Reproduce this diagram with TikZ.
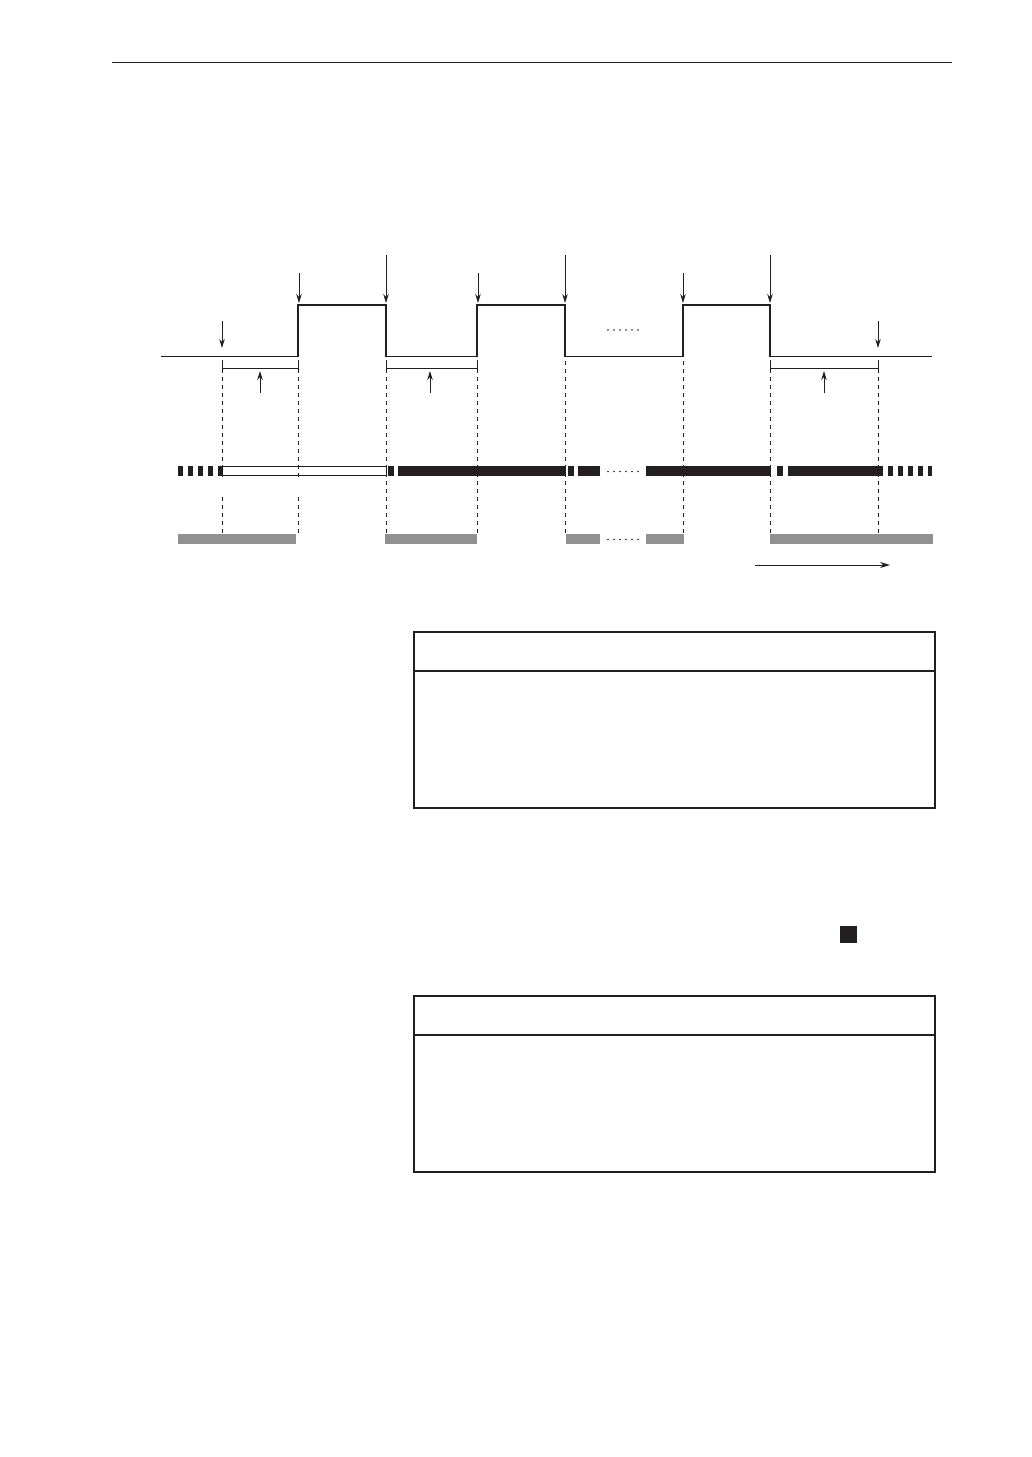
\documentclass[tikz,border=0pt]{standalone}
\usetikzlibrary{arrows.meta,calc}
\definecolor{ink}{HTML}{231F20}
\definecolor{bargray}{HTML}{919191}
\tikzset{
  signal/.style={line width=1.8pt, draw=ink},
  pointer/.style={line width=0.9pt, draw=ink, -{Stealth[length=9pt,width=5.5pt]}},
  guide/.style={line width=0.8pt, draw=ink, dash pattern=on 4pt off 4pt},
  bracket/.style={line width=0.9pt, draw=ink},
  blk/.style={fill=ink, draw=none},
  gry/.style={fill=bargray, draw=none},
  frame/.style={line width=1.7pt, draw=ink},
  dotmark/.style={fill=ink, draw=none}
}
\begin{document}
\begin{tikzpicture}[x=1pt,y=-1pt]
\useasboundingbox (0,0) rectangle (1032,1457);
% header rule
\draw[line width=1pt, draw=ink] (112,62) -- (952,62);

% key x positions
\coordinate (a) at (222,0);
\coordinate (r1) at (298,0);
\coordinate (f1) at (386,0);
\coordinate (r2) at (477,0);
\coordinate (f2) at (565,0);
\coordinate (r3) at (683,0);
\coordinate (f3) at (770,0);
\coordinate (b) at (878,0);

% signal
\draw[signal] (161,356.5) -- (298,356.5) -- (298,305) -- (386,305) -- (386,356.5)
  -- (477,356.5) -- (477,305) -- (565,305) -- (565,356.5)
  -- (683,356.5) -- (683,305) -- (770,305) -- (770,356.5) -- (932,356.5);

% dots between pulses
\foreach \i in {0,...,5} \fill[dotmark] (608+6*\i,330) circle (0.8);

% down pointers
\draw[pointer] (222,321) -- (222,348);
\draw[pointer] (299,273) -- (299,303);
\draw[pointer] (386,255) -- (386,303);
\draw[pointer] (478,273) -- (478,303);
\draw[pointer] (565,255) -- (565,303);
\draw[pointer] (683,273) -- (683,303);
\draw[pointer] (770,255) -- (770,303);
\draw[pointer] (878,321) -- (878,348);

% brackets
\draw[bracket] (222,360) -- (222,368) -- (298,368) -- (298,360);
\draw[bracket] (386,360) -- (386,368) -- (477,368) -- (477,360);
\draw[bracket] (770,360) -- (770,368) -- (878,368) -- (878,360);
\draw[pointer] (260,393) -- (260,371);
\draw[pointer] (430,393) -- (430,371);
\draw[pointer] (824,393) -- (824,371);

% black/white bar row
\foreach \s in {178,188,198,208} \fill[blk] (\s,466) rectangle ++(5,10);
\fill[blk] (218,466) rectangle (222,476);
\draw[line width=1pt, draw=ink, fill=white] (222,466.5) rectangle (386,475.5);
\fill[blk] (388,466) rectangle (394,476);
\fill[blk] (398,466) rectangle (566,476);
\fill[blk] (568,466) rectangle (574,476);
\fill[blk] (578,466) rectangle (600,476);
\foreach \i in {0,...,5} \fill[dotmark] (608+6*\i,471.5) circle (0.8);
\fill[blk] (646,466) rectangle (771,476);
\fill[blk] (777,466) rectangle (783,476);
\fill[blk] (788,466) rectangle (883,476);
\foreach \s in {888,898,908,918} \fill[blk] (\s,466) rectangle ++(5,10);
\fill[blk] (928,466) rectangle (932,476);

% dashed guides
\foreach \p in {a,r1}{
  \draw[guide] ($(\p)+(0,361)$) -- ($(\p)+(0,477)$);
  \draw[guide] ($(\p)+(0,497)$) -- ($(\p)+(0,533)$);
}
\foreach \p in {f1,r2,f2,r3,f3,b}
  \draw[guide] ($(\p)+(0,361)$) -- ($(\p)+(0,533)$);

% gray bar row
\fill[gry] (178,534) rectangle (296,544);
\fill[gry] (385,534) rectangle (477,544);
\fill[gry] (566,534) rectangle (600,544);
\foreach \i in {0,...,5} \fill[dotmark] (608+6*\i,539.5) circle (0.8);
\fill[gry] (646,534) rectangle (684,544);
\fill[gry] (770,534) rectangle (933,544);

% time arrow
\coordinate (t0) at (755,565);
\coordinate (t1) at (890,565);
\draw[line width=0.9pt, draw=ink, -{Stealth[length=10pt,width=6pt]}] (t0) -- (t1);

% table frame 1
\node[frame, minimum width=521pt, minimum height=176pt, anchor=north west, inner sep=0pt] (box1) at (413,631) {};
\draw[frame] (413,671) -- (934,671);

% small black square
\fill[blk] (840,926) rectangle (857,943);

% table frame 2
\node[frame, minimum width=521pt, minimum height=176pt, anchor=north west, inner sep=0pt] (box2) at (413,995) {};
\draw[frame] (413,1035) -- (934,1035);
\end{tikzpicture}
\end{document}
